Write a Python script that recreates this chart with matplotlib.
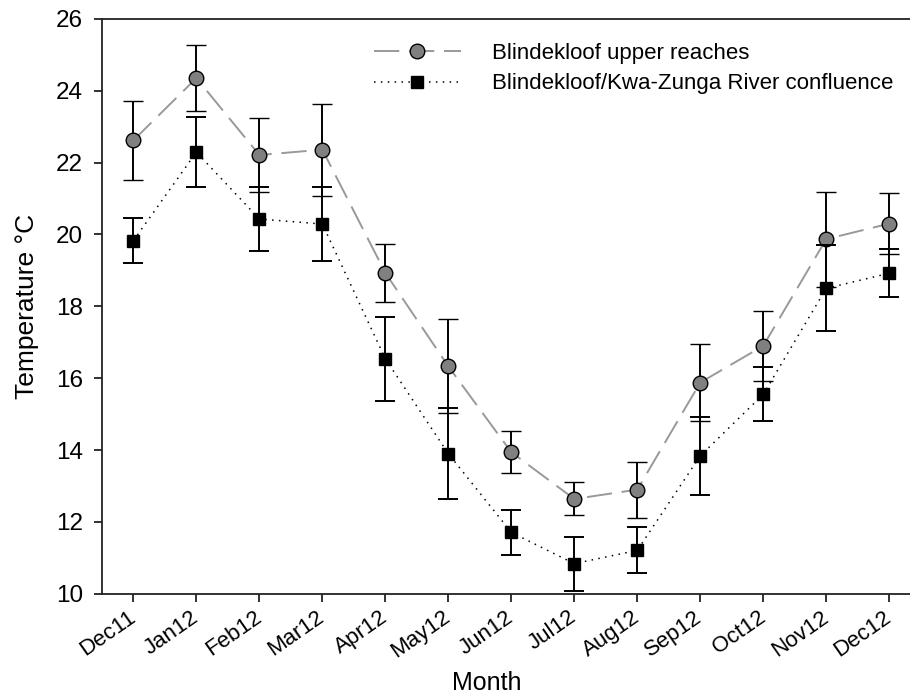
import matplotlib
matplotlib.use("Agg")
import matplotlib.pyplot as plt
from matplotlib.lines import Line2D

# Monthly mean water temperature with error bars (+/- 1 SD)
months = ["Dec11", "Jan12", "Feb12", "Mar12", "Apr12", "May12", "Jun12",
          "Jul12", "Aug12", "Sep12", "Oct12", "Nov12", "Dec12"]

upper_mean = [22.62, 24.35, 22.21, 22.36, 18.93, 16.33, 13.94,
              12.64, 12.90, 15.88, 16.90, 19.87, 20.30]
upper_err = [1.10, 0.92, 1.04, 1.28, 0.80, 1.31, 0.58,
             0.46, 0.78, 1.07, 0.98, 1.32, 0.85]

confl_mean = [19.83, 22.29, 20.43, 20.29, 16.54, 13.90, 11.71,
              10.84, 11.21, 13.84, 15.55, 18.50, 18.92]
confl_err = [0.63, 0.98, 0.90, 1.03, 1.17, 1.26, 0.63,
             0.75, 0.64, 1.08, 0.75, 1.20, 0.67]

plt.rcParams['font.family'] = ['Liberation Sans', 'DejaVu Sans']

fig = plt.figure(figsize=(9.10, 6.97), dpi=100)
ax = fig.add_axes([0.112, 0.148, 0.888, 0.825])

x = list(range(len(months)))

upper_style = dict(color='#999999', lw=1.4, dashes=(13, 5), marker='o',
                   ms=10.5, mfc='#808080', mec='black', mew=1.0)
confl_style = dict(color='black', lw=1.1, dashes=(1, 3.5), marker='s',
                   ms=8.5, mfc='black', mec='black')

ax.errorbar(x, upper_mean, yerr=upper_err, ecolor='black', elinewidth=1.4,
            capsize=7, capthick=1.4, zorder=2, **upper_style)
ax.errorbar(x, confl_mean, yerr=confl_err, ecolor='black', elinewidth=1.4,
            capsize=7, capthick=1.4, zorder=3, **confl_style)

ax.set_xlim(-0.5, 12.33)
ax.set_ylim(10, 26)
ax.set_yticks(range(10, 27, 2))
ax.set_xticks(x)
ax.set_xticklabels(months, rotation=35, ha='right', va='center',
                   rotation_mode='anchor')

for side in ['left', 'bottom', 'top']:
    ax.spines[side].set_linewidth(1.3)
    ax.spines[side].set_color('#222222')
ax.spines['right'].set_visible(False)

ax.tick_params(axis='both', direction='out', length=5.5, width=1.3,
               color='#222222')
ax.tick_params(axis='x', pad=10, labelsize=16)
ax.tick_params(axis='y', pad=8, labelsize=17.5)

ax.set_xlabel('Month', fontsize=18)
ax.xaxis.set_label_coords(0.476, -0.134)
ax.set_ylabel('Temperature °C', fontsize=19)
ax.yaxis.set_label_coords(-0.078, 0.5)

# legend shows only the line + marker, no error bars
handles = [Line2D([], [], **upper_style), Line2D([], [], **confl_style)]
labels = ['Blindekloof upper reaches', 'Blindekloof/Kwa-Zunga River confluence']
ax.legend(handles, labels, loc='upper left',
          bbox_to_anchor=(363 / 910, 1 - 32 / 697),
          bbox_transform=fig.transFigure, frameon=False, fontsize=16,
          borderpad=0, handlelength=3.9, handletextpad=1.4,
          labelspacing=0.42, numpoints=1)

fig.savefig('out.png', dpi=100)
